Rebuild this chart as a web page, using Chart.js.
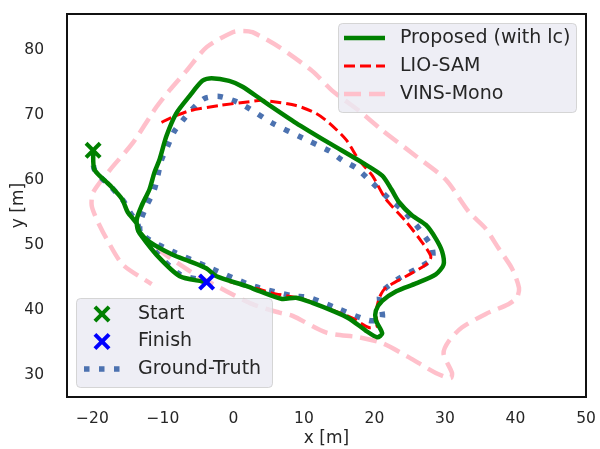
<!DOCTYPE html>
<html>
<head>
<meta charset="utf-8">
<script src="https://cdn.jsdelivr.net/npm/chart.js@4.4.1/dist/chart.umd.min.js"></script>
<style>
  html, body { margin: 0; padding: 0; background: #fff; }
  #myChart { display: block; }
</style>
</head>
<body>
<canvas id="myChart" width="600" height="449"></canvas>
<script>
const xTicks = [-20, -10, 0, 10, 20, 30, 40, 50];
const yTicks = [30, 40, 50, 60, 70, 80];

// Proposed (with lc)
const proposedX = [-19.9, -19.7, -17.5, -15.8, -15.0, -13.7, -13.3, -11.9, -8.6, -6.2, -3.8, -2.4, 1.8, 3.7, 6.9, 8.9, 11.2, 14.0, 16.4, 18.8, 20.4, 21.1, 20.2, 20.2, 21.1, 23.1, 25.9, 28.7, 29.8, 29.6, 28.7, 27.3, 25.3, 23.5, 22.4, 21.1, 18.3, 13.6, 8.9, 4.1, 1.3, -0.6, -3.1, -4.4, -6.2, -8.1, -9.5, -10.5, -11.2, -11.9, -13.0, -13.7, -13.6, -13.3, -10.9, -7.6, -4.4, -3.8];
const proposedY = [64.6, 61.6, 59.2, 57.1, 55.1, 53.3, 52.0, 50.5, 48.5, 47.5, 46.4, 45.2, 43.7, 42.9, 41.7, 41.9, 41.1, 39.9, 38.7, 36.8, 35.8, 36.4, 38.4, 39.9, 41.4, 42.9, 44.1, 45.5, 47.0, 49.0, 51.0, 53.1, 54.6, 56.6, 58.6, 60.7, 62.7, 65.7, 68.8, 72.3, 74.4, 75.3, 75.7, 75.3, 73.0, 70.3, 66.8, 63.1, 61.2, 58.6, 56.1, 54.0, 52.5, 51.8, 48.5, 45.2, 44.4, 44.3];

// LIO-SAM
const lioX = [-10.2, -9.1, -6.2, -2.0, 2.3, 4.1, 8.9, 11.7, 13.6, 16.0, 17.8, 19.7, 21.6, 24.5, 26.7, 28.0, 27.3, 24.5, 21.6, 20.7, 20.2, 20.4, 19.2, 16.8, 13.2, 9.8, 7.5, 5.5, 3.7, 1.8, -0.6];
const lioY = [68.9, 69.5, 70.7, 71.5, 72.1, 72.3, 71.5, 70.3, 68.8, 66.2, 63.1, 60.7, 57.1, 53.6, 50.5, 48.2, 47.0, 45.2, 43.4, 41.9, 39.4, 37.6, 37.3, 38.8, 40.3, 41.7, 42.2, 42.6, 43.2, 43.7, 44.4];

// VINS-Mono
const vinsX = [-10.9, -6.2, -1.0, 2.7, 6.5, 8.4, 13.2, 17.8, 21.1, 24.9, 28.7, 30.8, 31.0, 29.8, 30.6, 32.4, 35.8, 39.0, 40.2, 40.5, 39.5, 37.6, 35.8, 33.4, 30.1, 25.9, 21.1, 17.8, 14.0, 11.2, 6.5, 2.7, 1.3, -0.1, -3.8, -6.7, -9.1, -10.9, -14.3, -17.5, -19.9, -20.1, -19.4, -18.0, -15.7, -11.6];
const vinsY = [49.5, 46.0, 42.9, 40.9, 39.6, 39.1, 36.5, 35.8, 34.9, 32.7, 30.3, 29.5, 30.3, 33.3, 35.3, 37.3, 39.4, 40.9, 41.9, 43.4, 46.4, 49.5, 52.5, 55.1, 60.1, 63.7, 67.7, 70.7, 73.8, 76.8, 80.5, 82.8, 83.0, 82.8, 80.5, 76.8, 73.8, 71.3, 65.7, 61.6, 58.1, 56.1, 54.0, 51.0, 47.0, 44.0];

// Ground-Truth
const gtX = [-19.9, -19.7, -17.3, -15.6, -14.7, -13.6, -13.2, -11.9, -8.6, -3.8, 1.8, 3.7, 8.4, 10.8, 14.6, 19.2, 21.1, 20.7, 21.1, 23.5, 25.9, 28.2, 28.2, 27.7, 25.9, 23.9, 22.1, 19.2, 17.4, 15.4, 13.6, 9.8, 5.5, 2.3, 0.4, -2.0, -4.1, -5.8, -7.2, -8.4, -9.3, -10.2, -11.2, -12.3, -13.2, -13.2, -10.9, -7.6, -4.4];
const gtY = [64.6, 61.6, 58.9, 56.8, 55.1, 53.3, 52.0, 50.8, 49.0, 46.7, 44.1, 43.4, 42.2, 41.9, 40.3, 38.4, 38.7, 41.9, 42.9, 44.9, 46.3, 47.9, 49.5, 50.5, 53.1, 55.5, 57.1, 60.1, 61.9, 63.1, 64.5, 66.5, 68.8, 71.0, 72.1, 72.9, 72.6, 71.0, 69.2, 67.5, 65.3, 63.1, 58.6, 56.1, 53.6, 52.0, 48.8, 45.5, 44.6];

const startX = [-19.9];
const startY = [64.6];
const finishX = [-3.8];
const finishY = [44.3];

const textColor = "#262626";

Chart.defaults.font.family = "'DejaVu Sans'";

function toPoints(xs, ys) {
  return xs.map((x, i) => ({ x: x, y: ys[i] }));
}

function minusSign(v) {
  return v < 0 ? "\u2212" + Math.abs(v) : String(v);
}

const datasets = [
  {
    label: "Start",
    data: toPoints(startX, startY),
    showLine: false,
    pointStyle: "crossRot",
    pointRadius: 10,
    pointBorderWidth: 4,
    borderColor: "green",
    backgroundColor: "green",
    order: 0,
  },
  {
    label: "Finish",
    data: toPoints(finishX, finishY),
    showLine: false,
    pointStyle: "crossRot",
    pointRadius: 10,
    pointBorderWidth: 4,
    borderColor: "blue",
    backgroundColor: "blue",
    order: 0,
  },
  {
    label: "Proposed (with lc)",
    data: toPoints(proposedX, proposedY),
    showLine: true,
    borderColor: "green",
    borderWidth: 4.5,
    pointRadius: 0,
    tension: 0.25,
    order: 1,
  },
  {
    label: "LIO-SAM",
    data: toPoints(lioX, lioY),
    showLine: true,
    borderColor: "red",
    borderWidth: 3,
    borderDash: [11, 5],
    pointRadius: 0,
    tension: 0.25,
    order: 2,
  },
  {
    label: "Ground-Truth",
    data: toPoints(gtX, gtY),
    showLine: true,
    borderColor: "#4C72B0",
    borderWidth: 5.5,
    borderDash: [5.5, 9.5],
    borderCapStyle: "butt",
    pointRadius: 0,
    tension: 0.25,
    order: 3,
  },
  {
    label: "VINS-Mono",
    data: toPoints(vinsX, vinsY),
    showLine: true,
    borderColor: "pink",
    borderWidth: 4.5,
    borderDash: [17, 8],
    pointRadius: 0,
    tension: 0.25,
    order: 4,
  },
];

// svart ramme rundt plottet
const framePlugin = {
  id: "frame",
  afterDatasetsDraw(chart) {
    const a = chart.chartArea;
    const ctx = chart.ctx;
    ctx.save();
    ctx.strokeStyle = "#111";
    ctx.lineWidth = 2;
    ctx.strokeRect(a.left, a.top, a.right - a.left, a.bottom - a.top);
    ctx.restore();
  },
};

function drawBox(ctx, x, y, w, h) {
  ctx.save();
  ctx.fillStyle = "rgba(234,234,242,0.8)";
  ctx.strokeStyle = "rgba(204,204,204,0.8)";
  ctx.lineWidth = 1;
  ctx.beginPath();
  ctx.roundRect(x + 0.5, y + 0.5, w, h, 4);
  ctx.fill();
  ctx.stroke();
  ctx.restore();
}

function drawLineSample(ctx, ds, x1, x2, y) {
  ctx.save();
  ctx.strokeStyle = ds.borderColor;
  ctx.lineWidth = ds.borderWidth;
  ctx.setLineDash(ds.borderDash || []);
  ctx.lineCap = "butt";
  ctx.beginPath();
  ctx.moveTo(x1, y);
  ctx.lineTo(x2, y);
  ctx.stroke();
  ctx.restore();
}

function drawCross(ctx, color, cx, cy, r) {
  const d = r * Math.SQRT1_2;
  ctx.save();
  ctx.strokeStyle = color;
  ctx.lineWidth = 4;
  ctx.beginPath();
  ctx.moveTo(cx - d, cy - d);
  ctx.lineTo(cx + d, cy + d);
  ctx.moveTo(cx + d, cy - d);
  ctx.lineTo(cx - d, cy + d);
  ctx.stroke();
  ctx.restore();
}

function drawLabel(ctx, text, x, y) {
  ctx.save();
  ctx.fillStyle = textColor;
  ctx.font = "19px 'DejaVu Sans'";
  ctx.textAlign = "left";
  ctx.textBaseline = "middle";
  ctx.fillText(text, x, y);
  ctx.restore();
}

// to legender inne i plottet, som i matplotlib
const legendPlugin = {
  id: "twoLegends",
  afterDraw(chart) {
    const ctx = chart.ctx;
    const a = chart.chartArea;
    const find = (name) => chart.data.datasets.find((d) => d.label === name);

    // oppe til hoeyre
    const b1w = 238, b1h = 89;
    const b1x = a.right - 10 - b1w, b1y = a.top + 9;
    drawBox(ctx, b1x, b1y, b1w, b1h);
    ["Proposed (with lc)", "LIO-SAM", "VINS-Mono"].forEach((name, i) => {
      const y = b1y + 15 + i * 28;
      drawLineSample(ctx, find(name), b1x + 6, b1x + 47, y);
      drawLabel(ctx, name, b1x + 62, y);
    });

    // nede til venstre
    const b2w = 196, b2h = 89;
    const b2x = a.left + 9, b2y = a.bottom - 10 - b2h;
    drawBox(ctx, b2x, b2y, b2w, b2h);
    const rows = ["Start", "Finish", "Ground-Truth"];
    rows.forEach((name, i) => {
      const y = b2y + 16 + i * 27.5;
      const ds = find(name);
      if (name === "Ground-Truth") {
        drawLineSample(ctx, ds, b2x + 8, b2x + 46, y);
      } else {
        drawCross(ctx, ds.borderColor, b2x + 26, y, 10);
      }
      drawLabel(ctx, name, b2x + 62, y);
    });
  },
};

const ctx = document.getElementById("myChart");

new Chart(ctx, {
  type: "scatter",
  data: { datasets: datasets },
  options: {
    responsive: false,
    animation: false,
    events: [],
    devicePixelRatio: 1,
    layout: { padding: { top: 8, right: 13, left: 0, bottom: 0 } },
    plugins: {
      legend: { display: false },
      tooltip: { enabled: false },
    },
    scales: {
      x: {
        type: "linear",
        min: -23.6,
        max: 50,
        grid: { display: false },
        border: { display: false },
        afterBuildTicks: (scale) => {
          scale.ticks = xTicks.map((v) => ({ value: v }));
        },
        afterFit: (scale) => {
          scale.height = 52;
          scale.paddingLeft = 0;
          scale.paddingRight = 0;
        },
        ticks: {
          color: textColor,
          font: { size: 15.5 },
          padding: 5,
          maxRotation: 0,
          callback: minusSign,
        },
        title: {
          display: true,
          text: "x [m]",
          color: textColor,
          font: { size: 17 },
          padding: { top: 0, bottom: 0 },
        },
      },
      y: {
        type: "linear",
        min: 26.6,
        max: 85.6,
        grid: { display: false },
        border: { display: false },
        afterBuildTicks: (scale) => {
          scale.ticks = yTicks.map((v) => ({ value: v }));
        },
        afterFit: (scale) => {
          scale.width = 67;
          scale.paddingTop = 0;
          scale.paddingBottom = 0;
        },
        ticks: {
          color: textColor,
          font: { size: 15.5 },
          padding: 15,
          callback: minusSign,
        },
        title: {
          display: true,
          text: "y [m]",
          color: textColor,
          font: { size: 17 },
          padding: { top: 8, bottom: 0 },
        },
      },
    },
  },
  plugins: [framePlugin, legendPlugin],
});
</script>
</body>
</html>
